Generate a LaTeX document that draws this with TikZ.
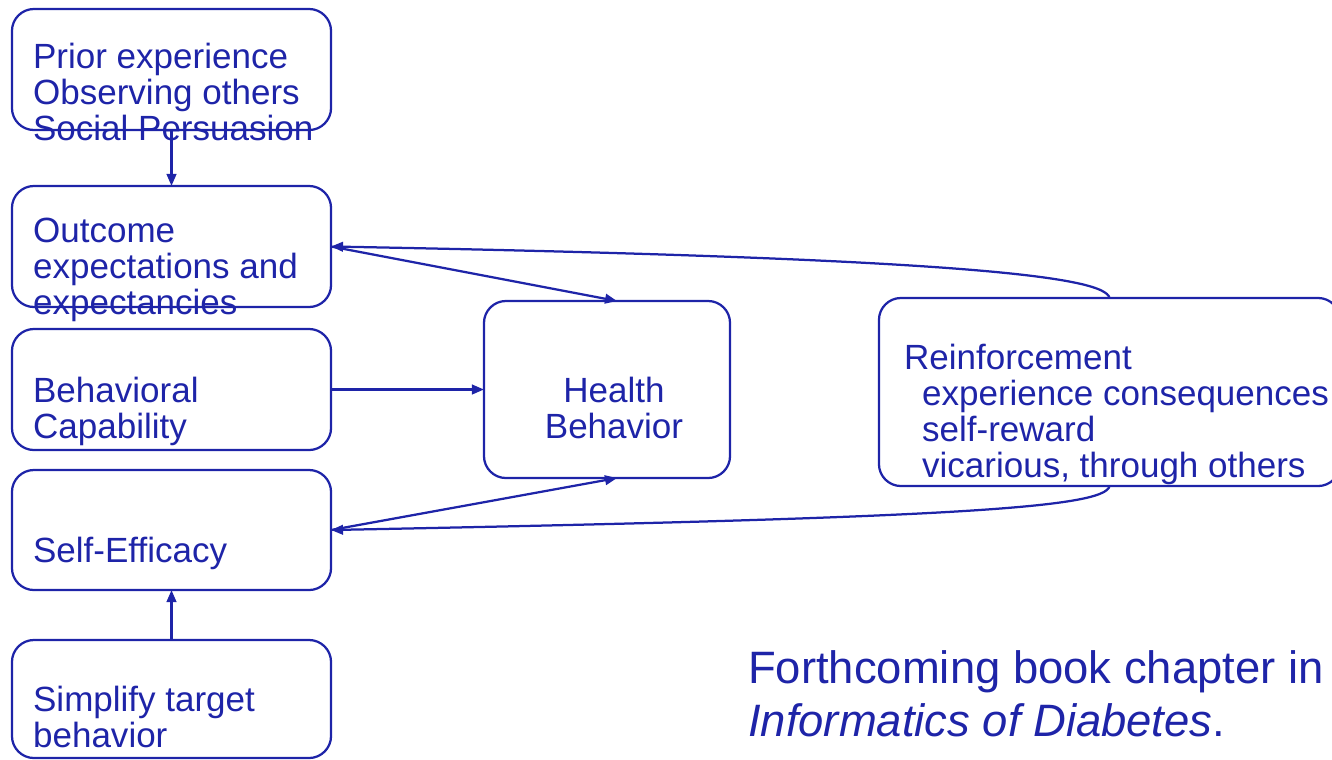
\documentclass[tikz,border=0pt]{standalone}
\usepackage{fontspec}
\setmainfont{Liberation Sans}
\usetikzlibrary{arrows.meta}
\definecolor{sctblue}{RGB}{30,36,168}

\tikzset{
  box/.style={draw=sctblue, line width=1.6pt, rounded corners=0.55cm,
    inner sep=0pt, outer sep=0pt, minimum width=7.975cm, minimum height=3.025cm},
  txt/.style={anchor=base west, align=left, inner sep=0pt, text=sctblue,
    font=\fontsize{24.9}{25.6}\selectfont},
}

\begin{document}
\begin{tikzpicture}[x=0.025cm, y=-0.025cm, >={Triangle[length=0.3cm,width=0.24cm]},
  line width=1.6pt, draw=sctblue]

\useasboundingbox (0,0) rectangle (1332,759);

% left column
\node[box] (prior) at (171.5,69.5) {};
\node[box] (outcome) at (171.5,246.5) {};
\node[box] (capab) at (171.5,389.5) {};
\node[box, minimum height=3cm] (efficacy) at (171.5,530) {};
\node[box, minimum height=2.95cm] (simplify) at (171.5,699) {};

% middle and right
\node[box, minimum width=6.15cm, minimum height=4.425cm] (health) at (607,389.5) {};
\node[box, minimum width=11.525cm, minimum height=4.7cm] (reinf) at (1109.5,392) {};

% texts (base = last line)
\node[txt] (priortxt) at (32,140) {Prior experience\\Observing others\\Social Persuasion};
\node[txt] (outcometxt) at (32,314) {Outcome\\expectations and\\expectancies};
\node[txt] (capabtxt) at (32,438) {Behavioral\\Capability};
\node[txt] (efficacytxt) at (32,562) {Self-Efficacy};
\node[txt] (simplifytxt) at (32,747) {Simplify target\\behavior};
\node[txt, anchor=base, align=center] (healthtxt) at (614,438) {Health\\Behavior};
\node[txt] (reinftxt) at (903,477) {Reinforcement\\
  \hspace*{0.45cm}experience consequences\\
  \hspace*{0.45cm}self-reward\\
  \hspace*{0.45cm}vicarious, through others};
\node[txt, font=\fontsize{32.3}{37.7}\selectfont] (note) at (747,736)
  {Forthcoming book chapter in\\\textit{Informatics of Diabetes}.};

% arrows
\draw[->] (prior.south) -- (outcome.north);
\draw[->] (simplify.north) -- (efficacy.south);
\draw[->] (outcome.east) -- ([xshift=0.25cm]health.north);
\draw[->] (capab.east) -- (health.west);
\draw[->] (efficacy.east) -- ([xshift=0.25cm]health.south);
\draw[->] (reinf.north) .. controls (1105,276) and (950,258) .. (outcome.east);
\draw[->] (reinf.south) .. controls (1105,508) and (950,518) .. (efficacy.east);

\end{tikzpicture}
\end{document}
